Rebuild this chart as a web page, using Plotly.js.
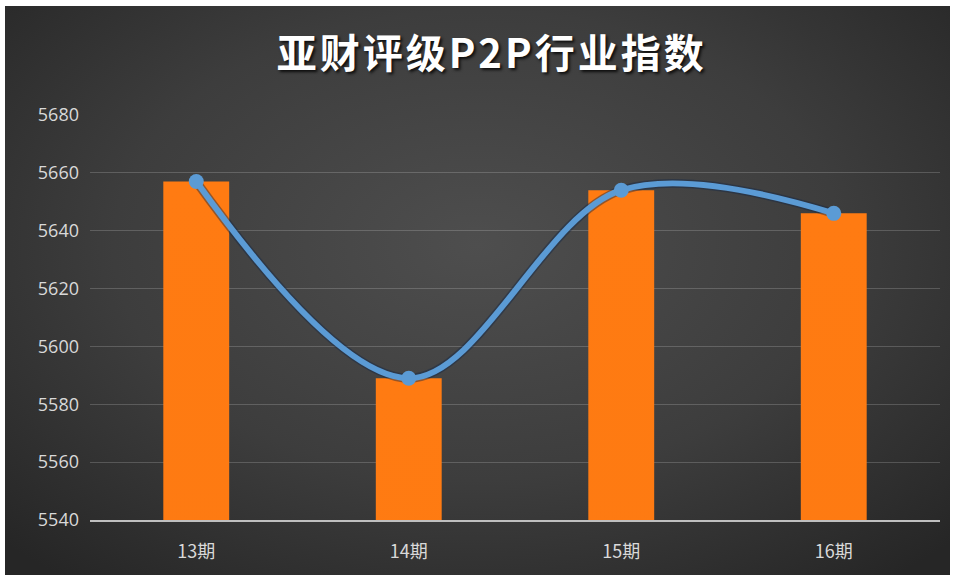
<!DOCTYPE html>
<html><head><meta charset="utf-8">
<script src="https://cdn.plot.ly/plotly-3.0.1.min.js"></script>
<style>
html,body{margin:0;padding:0;background:#fff;}
#bg{position:absolute;left:5px;top:6px;width:945px;height:569px;
 background:radial-gradient(ellipse 70% 75% at 50% 42%, #4e4e4e 0%, #3d3d3d 55%, #262626 100%);}
#chart{position:absolute;left:5px;top:6px;width:945px;height:569px;}
.gtitle{text-shadow:2px 2px 3px rgba(0,0,0,0.8);letter-spacing:3px;}
</style></head>
<body>
<div id="bg"></div>
<div id="chart"></div>
<script>
const categories = ['13期','14期','15期','16期'];
const barValues = [5657, 5589, 5654, 5646];
const lineValues = [5657, 5589, 5654, 5646];
const yTicks = [5540,5560,5580,5600,5620,5640,5660,5680];
const titleText = '亚财评级P2P行业指数';

const traces = [
  {type:'bar', x:categories, y:barValues, width:0.31,
   marker:{color:'#ec6c12', line:{width:0}}, hoverinfo:'none'},
  {type:'scatter', mode:'lines', x:categories, y:lineValues,
   line:{shape:'spline', smoothing:1, color:'rgba(20,40,70,0.45)', width:9},
   hoverinfo:'none'},
  {type:'scatter', mode:'lines+markers', x:categories, y:lineValues,
   line:{shape:'spline', smoothing:1, color:'#5b9bd5', width:6},
   marker:{size:15, color:'#5b9bd5'}, hoverinfo:'none'}
];
const layout = {
  width:945, height:569,
  paper_bgcolor:'rgba(0,0,0,0)', plot_bgcolor:'rgba(0,0,0,0)',
  margin:{l:85, r:10, t:109, b:55},
  showlegend:false,
  title:{text:titleText, x:0.515, xanchor:'center', y:0.915, yanchor:'middle',
    font:{family:'"Noto Sans CJK SC", sans-serif', size:40, color:'#ffffff', weight:'bold'}},
  xaxis:{type:'category', showgrid:false, zeroline:false,
    showline:true, linecolor:'#bfbfbf', linewidth:2,
    ticks:'', ticklabelstandoff:14,
    tickfont:{family:'"Noto Sans CJK SC", sans-serif', size:18, color:'#d9d9d9'}},
  yaxis:{range:[5540,5680], tickvals:yTicks, ticktext:yTicks.map(String),
    showgrid:true, gridcolor:'rgba(255,255,255,0.18)', gridwidth:1,
    zeroline:false, showline:false, ticks:'', ticklabelstandoff:10,
    tickfont:{family:'"Open Sans", sans-serif', size:18, color:'#d9d9d9'}},
  bargap:0.69
};
function applyGradient(gd){
  const ns = 'http://www.w3.org/2000/svg';
  const svg = gd.querySelector('svg.main-svg');
  if(!svg) return;
  if(!svg.querySelector('#barGrad')){
    const defs = document.createElementNS(ns,'defs');
    const g = document.createElementNS(ns,'linearGradient');
    g.setAttribute('id','barGrad');
    g.setAttribute('x1','0'); g.setAttribute('y1','0');
    g.setAttribute('x2','0'); g.setAttribute('y2','1');
    [['0','#ff7b12'],['1','#c95810']].forEach(function(s){
      const st = document.createElementNS(ns,'stop');
      st.setAttribute('offset',s[0]); st.setAttribute('stop-color',s[1]); g.appendChild(st);
    });
    defs.appendChild(g);
    svg.appendChild(defs);
  }
  gd.querySelectorAll('g.trace.bars path').forEach(function(p){
    p.style.setProperty('fill','url(#barGrad)');
  });
}
const gdEl = document.getElementById('chart');
Plotly.newPlot(gdEl, traces, layout, {displayModeBar:false, staticPlot:true}).then(function(){
  applyGradient(gdEl);
});
applyGradient(gdEl);
</script>
</body></html>
